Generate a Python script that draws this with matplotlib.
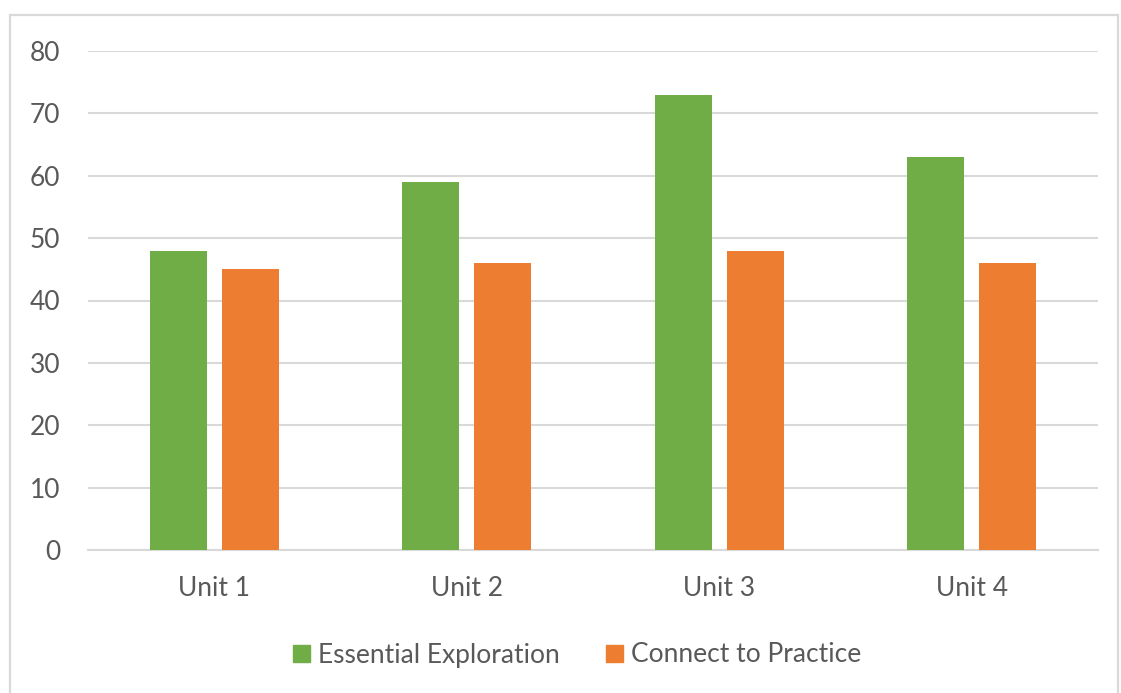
import matplotlib
matplotlib.use("Agg")
import matplotlib.pyplot as plt
from matplotlib.patches import Rectangle, Patch
import numpy as np

units = ["Unit 1", "Unit 2", "Unit 3", "Unit 4"]
essential_exploration = [48, 59, 73, 63]
connect_to_practice = [45, 46, 48, 46]
series_names = ["Essential Exploration", "Connect to Practice"]
y_ticks = [0, 10, 20, 30, 40, 50, 60, 70, 80]

GREEN = "#70AD47"
ORANGE = "#ED7D31"
TEXT = "#595959"
GRID = "#D9D9D9"

plt.rcParams["font.family"] = ["Lato", "DejaVu Sans"]

W, H = 1121, 693
fig = plt.figure(figsize=(W / 100, H / 100), dpi=100)
fig.patch.set_facecolor("white")

# chart frame
fig.add_artist(Rectangle((10 / W, -0.05), 1108 / W, (H - 15) / H + 0.05,
                         transform=fig.transFigure, fill=False,
                         edgecolor=GRID, linewidth=1.6))

ax = fig.add_axes([88 / W, 1 - 550 / H, (1098 - 88) / W, (550 - 51) / H])

x = np.arange(len(units))
bw = 0.226
off = 0.1426
ax.bar(x - off, essential_exploration, bw, color=GREEN, zorder=3)
ax.bar(x + off, connect_to_practice, bw, color=ORANGE, zorder=3)

ax.set_xlim(-0.5, len(units) - 0.5)
ax.set_ylim(0, 80)
ax.set_yticks(y_ticks)
ax.set_xticks(x)
ax.set_xticklabels(units)
ax.yaxis.grid(True, color=GRID, linewidth=1.5, zorder=0)
ax.set_axisbelow(True)
for s in ["top", "right", "left"]:
    ax.spines[s].set_visible(False)
ax.spines["bottom"].set_color(GRID)
ax.spines["bottom"].set_linewidth(1.5)
ax.tick_params(axis="both", length=0, labelsize=19, colors=TEXT)
ax.tick_params(axis="y", pad=20)
ax.tick_params(axis="x", pad=19)

handles = [Patch(color=GREEN), Patch(color=ORANGE)]
fig.legend(handles, series_names, loc="center", bbox_to_anchor=(577 / W, 1 - 655 / H),
           ncol=2, frameon=False, fontsize=19, labelcolor=TEXT,
           handlelength=0.64, handleheight=0.64, handletextpad=0.3, columnspacing=1.75)

fig.savefig("out.png", dpi=100, facecolor="white")
